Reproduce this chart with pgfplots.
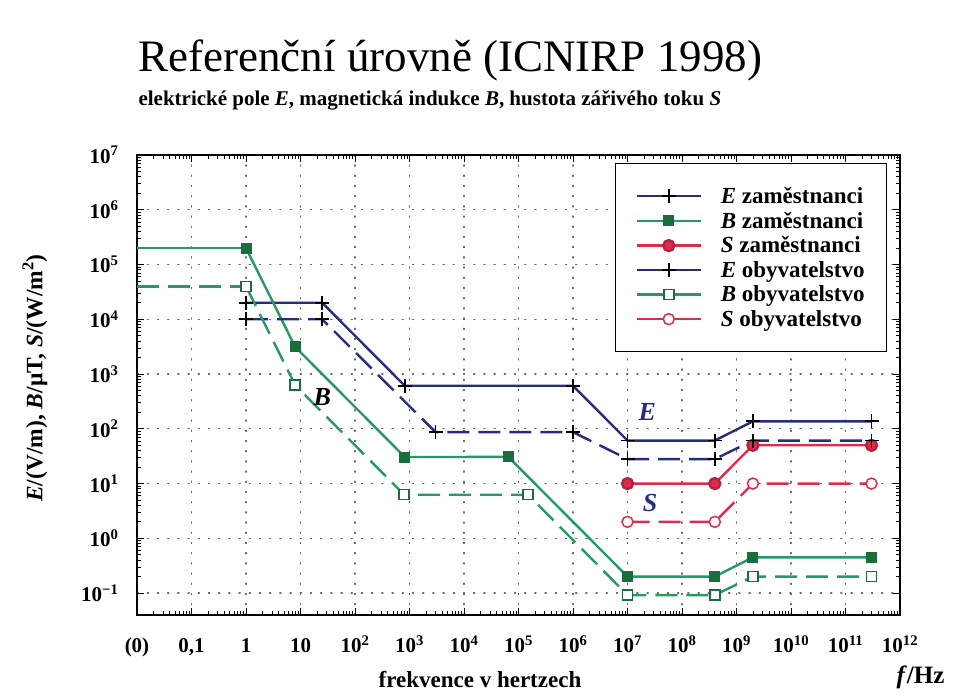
\documentclass[border=0pt]{standalone}
\usepackage{pgfplots}
\pgfplotsset{compat=1.18}
\usepackage{fontspec}
\setmainfont{Liberation Serif}
\definecolor{Enavy}{HTML}{262C7E}
\definecolor{Bgreen}{HTML}{259A62}
\definecolor{Bmark}{HTML}{1A6E3C}
\definecolor{Sred}{HTML}{DE2C4C}
\begin{document}
\begin{tikzpicture}
\useasboundingbox (-137pt,-83pt) rectangle (821pt,615pt);
\begin{axis}[
  at={(0pt,0pt)}, anchor=south west,
  scale only axis, width=763pt, height=460pt,
  xmode=log, ymode=log,
  xmin=1e-2, xmax=1e12, ymin=0.0398, ymax=1e7,
  xtick={1e-2,1e-1,1,10,100,1e3,1e4,1e5,1e6,1e7,1e8,1e9,1e10,1e11,1e12},
  xticklabels={(0),{0,1},1,10,10\textsuperscript{2},10\textsuperscript{3},10\textsuperscript{4},10\textsuperscript{5},10\textsuperscript{6},10\textsuperscript{7},10\textsuperscript{8},10\textsuperscript{9},10\textsuperscript{10},10\textsuperscript{11},10\textsuperscript{12}},
  ytick={1e-1,1,10,100,1e3,1e4,1e5,1e6,1e7},
  yticklabels={10\textsuperscript{−1},10\textsuperscript{0},10\textsuperscript{1},10\textsuperscript{2},10\textsuperscript{3},10\textsuperscript{4},10\textsuperscript{5},10\textsuperscript{6},10\textsuperscript{7}},
  tick label style={font=\fontsize{21}{21}\selectfont\bfseries},
  xticklabel style={yshift=-19pt, text height=15pt, text depth=3pt},
  yticklabel style={xshift=-15pt},
  grid=major,
  major grid style={black!60, line width=1.2pt, dash pattern=on 1.2pt off 9pt, line cap=round},
  axis line style={line width=1.4pt},
  major tick length=7pt, minor tick length=4pt,
  every tick/.style={black, line width=0.8pt},
  legend style={at={(0.983,0.983)}, anchor=north east, draw=black, line width=1pt,
    font=\fontsize{23}{24}\selectfont\bfseries, inner xsep=20pt, inner ysep=22pt,
    row sep=3pt, cells={anchor=west}},
  legend image code/.code={\draw[mark repeat=2,mark phase=2,#1,solid] plot coordinates {(0pt,0pt) (32pt,0pt) (64pt,0pt)};\path[draw=none,fill=none] (0pt,0pt) -- (82pt,0pt);},
]
% leading segments (f = 0 .. 1 Hz) without marks
\addplot[Bgreen, line width=2.4pt, forget plot] coordinates {(0.01,2e5) (1,2e5)};
\addplot[Bgreen, line width=2.4pt, dash pattern=on 22pt off 9pt, forget plot] coordinates {(0.01,4e4) (1,4e4)};
% E zamestnanci
\addplot[Enavy, line width=2.4pt, mark=+, mark size=7pt, mark options={black, line width=1.8pt, solid}]
 coordinates {(1,2e4) (25,2e4) (820,610) (1e6,610) (1e7,61) (4e8,61) (2e9,137) (3e11,137)};
\addlegendentry{\textit{E} zaměstnanci}
% B zamestnanci
\addplot[Bgreen, line width=2.4pt, mark=square*, mark size=5pt,
 mark options={draw=Bmark, fill=Bmark, line width=1pt, solid}]
 coordinates {(1,2e5) (8,3125) (820,30.5) (65000,30.7) (1e7,0.2) (4e8,0.2) (2e9,0.45) (3e11,0.45)};
\addlegendentry{\textit{B} zaměstnanci}
% S zamestnanci
\addplot[Sred, line width=2.4pt, mark=*, mark size=5.5pt, mark options={draw=Sred!80!black, fill=Sred, solid}]
 coordinates {(1e7,10) (4e8,10) (2e9,50) (3e11,50)};
\addlegendentry{\textit{S} zaměstnanci}
% E obyvatelstvo
\addplot[Enavy, line width=2.4pt, dash pattern=on 22pt off 9pt, mark=+, mark size=7pt, mark options={black, line width=1.8pt, solid}]
 coordinates {(1,1e4) (25,1e4) (3000,87) (1e6,87) (1e7,28) (4e8,28) (2e9,61) (3e11,61)};
\addlegendentry{\textit{E} obyvatelstvo}
% B obyvatelstvo
\addplot[Bgreen, line width=2.4pt, dash pattern=on 22pt off 9pt, mark=square*, mark size=5pt,
 mark options={draw=Bmark, fill=white, line width=1.5pt, solid}]
 coordinates {(1,4e4) (8,625) (800,6.25) (1.5e5,6.25) (1e7,0.092) (4e8,0.092) (2e9,0.2) (3e11,0.2)};
\addlegendentry{\textit{B} obyvatelstvo}
% S obyvatelstvo
\addplot[Sred, line width=2.4pt, dash pattern=on 22pt off 9pt, mark=*, mark size=5.5pt, mark options={draw=Sred, fill=white, line width=1.5pt, solid}]
 coordinates {(1e7,2) (4e8,2) (2e9,10) (3e11,10)};
\addlegendentry{\textit{S} obyvatelstvo}
\node[font=\fontsize{26}{26}\selectfont\bfseries\itshape] at (axis cs:25,380) {B};
\node[font=\fontsize{26}{26}\selectfont\bfseries\itshape, text=Enavy] at (axis cs:2.3e7,200) {E};
\node[font=\fontsize{26}{26}\selectfont\bfseries\itshape, text=Enavy] at (axis cs:2.6e7,4.4) {S};
\end{axis}
\node[anchor=base west, font=\fontsize{45}{45}\selectfont] at (-2pt,543pt) {Referenční úrovně (ICNIRP 1998)};
\node[anchor=base west, font=\fontsize{21}{21}\selectfont\bfseries] at (-2pt,509pt) {elektrické pole \textit{E}, magnetická indukce \textit{B}, hustota zářivého toku \textit{S}};
\node[anchor=center, rotate=90, font=\fontsize{23.5}{23.5}\selectfont\bfseries] at (-102pt,237pt) {\textit{E}/(V/m), \textit{B}/μT, \textit{S}/(W/m\textsuperscript{2})};
\node[anchor=base, font=\fontsize{23}{23}\selectfont\bfseries] at (343pt,-73pt) {frekvence v hertzech};
\node[anchor=base east, font=\fontsize{25}{25}\selectfont\bfseries] at (811pt,-69pt) {\textit{f}/Hz};
\end{tikzpicture}
\end{document}
